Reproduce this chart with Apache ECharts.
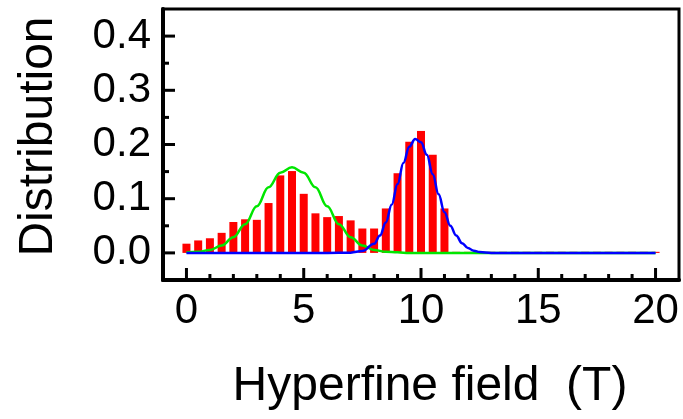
<!DOCTYPE html>
<html>
<head>
<meta charset="utf-8">
<script src="https://cdn.jsdelivr.net/npm/echarts@6/dist/echarts.min.js"></script>
<style>html,body{margin:0;padding:0;background:#fff;}#c{width:683px;height:419px;background:#fff;}</style>
</head>
<body>
<div id="c"></div>
<script>
// Histogram bins (T) and heights
const binCenters = [0,0.5,1,1.5,2,2.5,3,3.5,4,4.5,5,5.5,6,6.5,7,7.5,8,8.5,9,9.5,10,10.5,11,11.5,12,12.5,13,13.5,14,14.5,15,15.5,16,16.5,17,17.5,18,18.5,19,19.5,20];
const barHeights = [0.017,0.023,0.027,0.037,0.057,0.062,0.061,0.092,0.143,0.151,0.109,0.073,0.066,0.068,0.060,0.045,0.045,0.082,0.147,0.205,0.225,0.181,0.082,0.002,0.002,0.002,0.002,0.002,0.002,0.002,0.002,0.002,0.002,0.002,0.002,0.002,0.002,0.002,0.002,0.002,0.002];
// Green fitted component
const greenX = [0,0.5,1,1.5,2,2.5,3,3.5,4,4.5,5,5.5,6,6.5,7,7.5,8,8.5,9,9.5,10,12,14,16,18,20];
const greenY = [0.001,0.002,0.0055,0.0135,0.029,0.053,0.086,0.121,0.148,0.158,0.148,0.121,0.086,0.053,0.029,0.0135,0.0055,0.002,0.001,0,0,0,0,0,0,0];
// Blue fitted component
const blueX = [0,2,4,6,7,7.5,8,8.25,8.5,8.75,9,9.25,9.5,9.75,10,10.25,10.5,10.75,11,11.25,11.5,11.75,12,12.25,12.5,13,14,16,18,20];
const blueY = [0,0,0,0,0.0005,0.0034,0.0167,0.032,0.056,0.089,0.127,0.166,0.196,0.21,0.204,0.181,0.145,0.108,0.075,0.05,0.032,0.018,0.009,0.004,0.0015,0,0,0,0,0];
// Tick labels / tick values
const xTickLabels = [0,5,10,15,20];
const xMinorTicks = [1,2,3,4,6,7,8,9,11,12,13,14,16,17,18,19];
const yTickLabels = [0,0.1,0.2,0.3,0.4];
const yMinorTicks = [0.05,0.15,0.25,0.35];

const FONT = 'Liberation Sans';
const chart = echarts.init(document.getElementById('c'), null, {renderer:'canvas'});
const zip = (a,b) => a.map((v,i)=>[v,b[i]]);
const XMIN=-1, XMAX=21, YMIN=-0.05, YMAX=0.45;
const MAJ = 12, MINL = 6;

// tick records: [x, y, kind] kind 0 = x major, 1 = x minor, 2 = y major, 3 = y minor
const tickData = []
  .concat(xTickLabels.map(v=>[v, YMIN, 0]))
  .concat(xMinorTicks.map(v=>[v, YMIN, 1]))
  .concat(yTickLabels.map(v=>[XMIN, v, 2]))
  .concat(yMinorTicks.map(v=>[XMIN, v, 3]));

function renderTick(params, api){
  const p = api.coord([api.value(0), api.value(1)]);
  const k = api.value(2);
  let s;
  if (k === 0) s = {x1:p[0], y1:p[1], x2:p[0], y2:p[1]-MAJ};
  else if (k === 1) s = {x1:p[0], y1:p[1], x2:p[0], y2:p[1]-MINL};
  else if (k === 2) s = {x1:p[0], y1:p[1], x2:p[0]+MAJ, y2:p[1]};
  else s = {x1:p[0], y1:p[1], x2:p[0]+MINL, y2:p[1]};
  return {type:'line', shape:s, style:{stroke:'#000', lineWidth:3}};
}

chart.setOption({
  animation:false,
  grid:{left:163,right:4,top:9,bottom:139,show:true,borderColor:'#000',borderWidth:3},
  xAxis:{
    type:'value',min:XMIN,max:XMAX,
    name:'Hyperfine field  (T)',nameLocation:'middle',nameGap:83,
    nameTextStyle:{fontSize:48,fontFamily:FONT,color:'#000',padding:[0,0,0,18]},
    axisLine:{show:true,onZero:false,lineStyle:{color:'#000',width:4}},
    axisTick:{show:false},
    axisLabel:{show:true,customValues:xTickLabels,fontSize:42,fontFamily:FONT,color:'#000',margin:10},
    splitLine:{show:false}
  },
  yAxis:{
    type:'value',min:YMIN,max:YMAX,
    name:'Distribution',nameLocation:'middle',nameGap:100,nameRotate:90,
    nameTextStyle:{fontSize:48,fontFamily:FONT,color:'#000',padding:[0,0,0,16]},
    axisLine:{show:true,onZero:false,lineStyle:{color:'#000',width:4}},
    axisTick:{show:false},
    axisLabel:{show:true,customValues:yTickLabels,formatter:v=>Number(v).toFixed(1),fontSize:42,fontFamily:FONT,color:'#000',margin:12},
    splitLine:{show:false}
  },
  series:[{
    type:'bar',
    data:zip(binCenters,barHeights),
    barWidth:8,itemStyle:{color:'#ff0000'}
  },{
    type:'line',
    data:zip(greenX,greenY),smooth:0.4,smoothMonotone:'x',showSymbol:false,
    lineStyle:{color:'#00e600',width:2.5}
  },{
    type:'line',
    data:zip(blueX,blueY),smooth:0.4,smoothMonotone:'x',showSymbol:false,
    lineStyle:{color:'#0000ff',width:2.5}
  },{
    type:'custom',
    data:tickData,
    renderItem:renderTick,
    clip:false,silent:true,z:20,
    encode:{x:0,y:1}
  }]
});
</script>
</body>
</html>
